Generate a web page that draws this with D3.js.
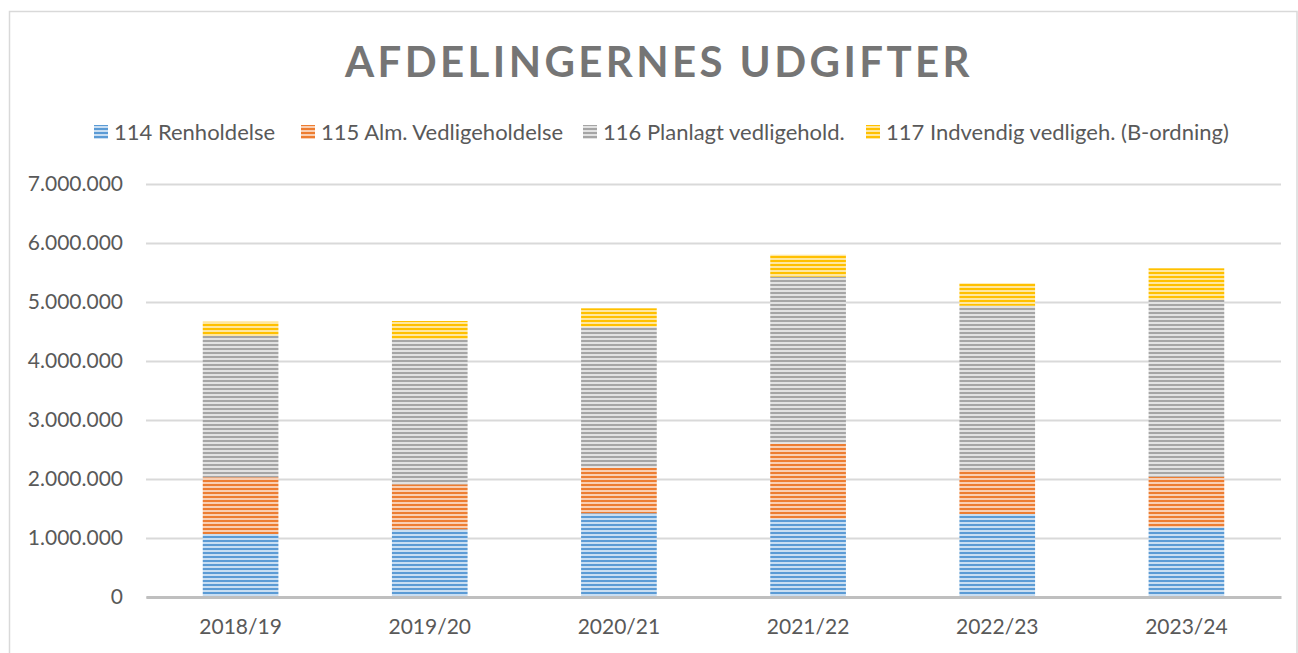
<!DOCTYPE html>
<html><head><meta charset="utf-8">
<script src="https://cdn.jsdelivr.net/npm/d3@7"></script>
<style>
html,body{margin:0;padding:0;background:#fff;}
svg{display:block;font-family:Lato, "Open Sans", sans-serif;}
</style></head>
<body>
<svg id="chart" width="1298" height="653"></svg>
<script>
const categories = ["2018/19","2019/20","2020/21","2021/22","2022/23","2023/24"];
const seriesNames = ["114 Renholdelse","115 Alm. Vedligeholdelse","116 Planlagt vedligehold.","117 Indvendig vedligeh. (B-ordning)"];
const renhold   = [1068000,1147000,1419000,1327000,1407000,1181000];
const almVedl   = [ 961000, 763000, 773000,1271000, 746000, 858000];
const planlagt  = [2395000,2458000,2389000,2831000,2784000,2995000];
const indvendig = [ 242000, 310000, 312000, 373000, 380000, 537000];
const yTicks = [0,1000000,2000000,3000000,4000000,5000000,6000000,7000000];
const title = "AFDELINGERNES UDGIFTER";

const colors = ["#5B9BD5","#ED7D31","#A5A5A5","#FFC000"];
const lights = ["#c9def2","#f9cfb3","#e2e2e2","#ffe7a0"];

const svg = d3.select("#chart");
const W = 1298, H = 653;
const margin = {left:146, right:W-1281, top:184, bottom:H-597};

// border
svg.append("rect").attr("x",9.5).attr("y",11.5).attr("width",W-10.5).attr("height",H+10)
  .attr("fill","#fff").attr("stroke","#d9d9d9").attr("stroke-width",1.5);

// patterns
const defs = svg.append("defs");
colors.forEach((c,i)=>{
  const p = defs.append("pattern").attr("id","pat"+i).attr("patternUnits","userSpaceOnUse")
    .attr("width",8).attr("height",4);
  p.append("rect").attr("width",8).attr("height",4).attr("fill",lights[i]);
  p.append("rect").attr("y",0).attr("width",8).attr("height",2).attr("fill",c);
});

const x = d3.scaleBand().domain(categories).range([margin.left, W-margin.right])
  .paddingInner(0.6).paddingOuter(0.3);
const y = d3.scaleLinear().domain([0,7000000]).range([H-margin.bottom, margin.top]);

const loc = d3.formatLocale({decimal:",", thousands:".", grouping:[3], currency:["",""]});
const fmt = loc.format(",.0f");

// gridlines
const yAxis = d3.axisLeft(y).tickValues(yTicks).tickSize(-(W-margin.left-margin.right)).tickFormat(fmt).tickPadding(23);
const gy = svg.append("g").attr("transform",`translate(${margin.left},0)`).call(yAxis);
gy.select(".domain").remove();
gy.selectAll(".tick line").attr("stroke","#d9d9d9").attr("stroke-width",2);
gy.selectAll(".tick text").attr("fill","#595959").style("font-size","21px")
  .style("font-family","Lato, sans-serif");

// stacked data
const table = categories.map((c,i)=>({cat:c, s0:renhold[i], s1:almVedl[i], s2:planlagt[i], s3:indvendig[i]}));
const stack = d3.stack().keys(["s0","s1","s2","s3"])(table);

svg.append("g").selectAll("g").data(stack).join("g")
  .attr("fill",(d,i)=>`url(#pat${i})`)
  .selectAll("rect").data(d=>d).join("rect")
  .attr("x",d=>x(d.data.cat)).attr("width",x.bandwidth())
  .attr("y",d=>y(d[1])).attr("height",d=>y(d[0])-y(d[1]));

// x axis
const xAxis = d3.axisBottom(x).tickSize(0).tickPadding(22);
const gx = svg.append("g").attr("transform",`translate(0,${H-margin.bottom})`).call(xAxis);
gx.select(".domain").attr("stroke","#bfbfbf").attr("stroke-width",3);
gx.selectAll(".tick text").attr("fill","#595959").style("font-size","21px")
  .style("font-family","Lato, sans-serif");

// title
svg.append("text").attr("x",659).attr("y",77).attr("text-anchor","middle")
  .attr("fill","#757575").style("font-size","42px").style("font-weight","bold")
  .style("letter-spacing","3.4px").style("font-family","Lato, sans-serif")
  .text(title);

// legend
const legendX = [94, 301, 583, 866];
const lg = svg.append("g");
seriesNames.forEach((n,i)=>{
  const g = lg.append("g").attr("transform",`translate(${legendX[i]},132)`);
  g.append("rect").attr("x",0).attr("y",-7).attr("width",14).attr("height",14).attr("fill",`url(#pat${i})`);
  g.append("text").attr("x",20).attr("y",7.5).attr("fill","#595959").style("font-size","22px")
    .style("font-family","Lato, sans-serif").text(n);
});
</script>
</body></html>
